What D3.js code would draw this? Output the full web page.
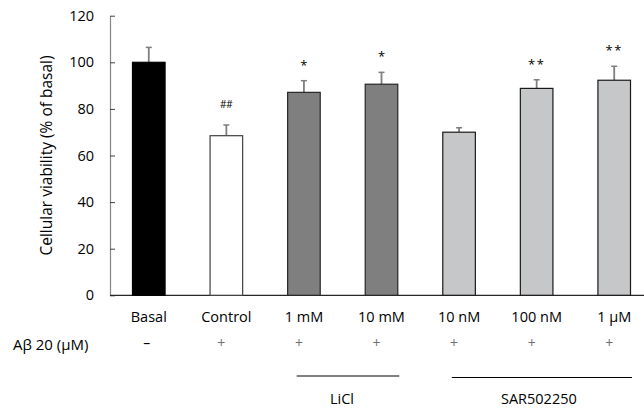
<!DOCTYPE html>
<html>
<head>
<meta charset="utf-8">
<script src="https://cdn.jsdelivr.net/npm/d3@7"></script>
<style>
  html, body { margin: 0; padding: 0; background: #fff; }
  svg { display: block; font-family: "Open Sans", sans-serif; }
</style>
</head>
<body>
<svg id="chart" width="644" height="408"></svg>
<script>
// ---- data ----
const categories = ["Basal", "Control", "1 mM", "10 mM", "10 nM", "100 nM", "1 µM"];
const values     = [100, 68.5, 87.1, 90.6, 70.0, 88.8, 92.3];
const errors     = [6.4, 4.6, 5.0, 5.1, 1.9, 3.7, 6.0];
const groups     = ["basal", "control", "licl", "licl", "sar", "sar", "sar"];
const marks      = ["", "##", "*", "*", "", "**", "**"];
const abSigns    = ["–", "+", "+", "+", "+", "+", "+"];
const yTicks     = [0, 20, 40, 60, 80, 100, 120];
const treatments = [
  { name: "LiCl", from: "1 mM", to: "10 mM" },
  { name: "SAR502250", from: "10 nM", to: "1 µM" }
];
const yTitle = "Cellular viability (% of basal)";
const rowLabel = "Aβ 20 (µM)";

// ---- styles ----
const fills   = { basal: "#000000", control: "#ffffff", licl: "#7f7f7f", sar: "#c6c7c9" };
const strokes = { basal: "#000000", control: "#404040", licl: "#262626", sar: "#1a1a1a" };

const svg = d3.select("#chart");

const x = d3.scaleBand()
  .domain(categories)
  .range([110, 653])
  .paddingInner(0.58)
  .paddingOuter(0.29);

const y = d3.scaleLinear().domain([0, 120]).range([295.3, 15.7]);

// y axis
const yAxis = svg.append("g")
  .attr("transform", "translate(110,0)")
  .call(d3.axisLeft(y).tickValues(yTicks).tickSize(-5).tickPadding(16).tickSizeOuter(0));
yAxis.select(".domain").attr("stroke", "#868686").attr("stroke-width", 1.2);
yAxis.selectAll(".tick line").attr("stroke", "#404040").attr("stroke-width", 1);
yAxis.selectAll(".tick text")
  .attr("font-family", "Open Sans, sans-serif")
  .attr("font-size", 14.5)
  .attr("fill", "#000");

// y title
svg.append("text")
  .attr("transform", `translate(52,${(y(0) + y(120)) / 2}) rotate(-90)`)
  .attr("text-anchor", "middle")
  .attr("font-size", 15.5)
  .attr("fill", "#000")
  .text(yTitle);

// x axis line
svg.append("line")
  .attr("x1", 110).attr("x2", 644)
  .attr("y1", y(0)).attr("y2", y(0))
  .attr("stroke", "#262626").attr("stroke-width", 1.2);

const data = categories.map((c, i) => ({
  c, v: values[i], e: errors[i], g: groups[i], m: marks[i], s: abSigns[i]
}));

// error bars
const eb = svg.append("g");
data.forEach(d => {
  const cx = x(d.c) + x.bandwidth() / 2;
  eb.append("line")
    .attr("x1", cx).attr("x2", cx)
    .attr("y1", y(d.v)).attr("y2", y(d.v + d.e))
    .attr("stroke", "#7f7f7f").attr("stroke-width", 1.8);
  eb.append("line")
    .attr("x1", cx - 3).attr("x2", cx + 3)
    .attr("y1", y(d.v + d.e)).attr("y2", y(d.v + d.e))
    .attr("stroke", "#7f7f7f").attr("stroke-width", 1.5);
});

// bars
svg.append("g").selectAll("rect")
  .data(data)
  .join("rect")
  .attr("x", d => x(d.c))
  .attr("y", d => y(d.v))
  .attr("width", x.bandwidth())
  .attr("height", d => y(0) - y(d.v))
  .attr("fill", d => fills[d.g])
  .attr("stroke", d => strokes[d.g])
  .attr("stroke-width", 1.2);

// significance marks
svg.append("g").selectAll("text")
  .data(data.filter(d => d.m))
  .join("text")
  .attr("x", d => x(d.c) + x.bandwidth() / 2)
  .attr("y", d => y(d.v + d.e) - (d.m === "##" ? 17 : 11))
  .attr("text-anchor", "middle")
  .attr("font-size", d => d.m === "##" ? 10 : 13)
  .attr("letter-spacing", d => d.m === "**" ? 1.5 : 0)
  .attr("fill", "#000")
  .text(d => d.m);

// category labels
svg.append("g").selectAll("text")
  .data(data)
  .join("text")
  .attr("x", d => x(d.c) + x.bandwidth() / 2)
  .attr("y", 322)
  .attr("text-anchor", "middle")
  .attr("font-size", 14.5)
  .attr("fill", "#000")
  .text(d => d.c);

// Aβ row
svg.append("text")
  .attr("x", 13).attr("y", 350)
  .attr("font-size", 15)
  .attr("fill", "#000")
  .text(rowLabel);

svg.append("g").selectAll("text")
  .data(data)
  .join("text")
  .attr("x", d => x(d.c) + x.bandwidth() / 2 + (d.s === "+" ? -5 : -2))
  .attr("y", 348)
  .attr("text-anchor", "middle")
  .attr("font-size", 14)
  .attr("fill", d => d.s === "+" ? "#707070" : "#000")
  .text(d => d.s);

// treatment group lines
treatments.forEach((t, i) => {
  const x1 = x(t.from) + 9;
  const x2 = x(t.to) + x.bandwidth() + 1.5;
  const ly = i === 0 ? 376 : 377.5;
  svg.append("line")
    .attr("x1", x1).attr("x2", x2)
    .attr("y1", ly).attr("y2", ly)
    .attr("stroke", i === 0 ? "#808080" : "#000")
    .attr("stroke-width", i === 0 ? 2 : 1.2);
  svg.append("text")
    .attr("x", (x1 + x2) / 2 - (i === 0 ? 6 : 3))
    .attr("y", 404)
    .attr("text-anchor", "middle")
    .attr("font-size", 14.5)
    .attr("fill", "#000")
    .text(t.name);
});
</script>
</body>
</html>
